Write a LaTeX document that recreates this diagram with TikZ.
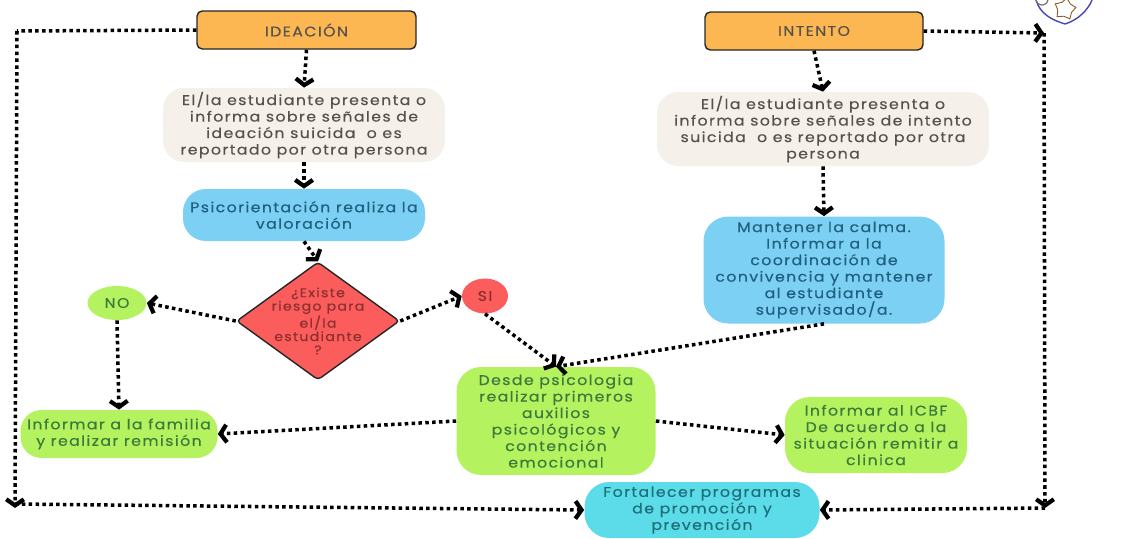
\documentclass[tikz,border=0pt]{standalone}
\usepackage{fontspec}
\setmainfont[LetterSpace=10,FakeStretch=1.12,FakeBold=0.35]{Poppins}
\usetikzlibrary{arrows.meta,shapes.geometric}
\definecolor{naranja}{HTML}{FCB652}
\definecolor{crema}{HTML}{F5F1EA}
\definecolor{azul}{HTML}{7BD0F4}
\definecolor{rojo}{HTML}{FB5C5C}
\definecolor{verde}{HTML}{B5F25F}
\definecolor{turquesa}{HTML}{5CDCE8}
\definecolor{tinta}{HTML}{55524E}
\definecolor{tintaazul}{HTML}{1F5F80}
\definecolor{tintaroja}{HTML}{8C2F2F}
\definecolor{tintaverde}{HTML}{3C7A3C}
\definecolor{tintaturq}{HTML}{1D6F7A}
\tikzset{
	caja/.style={rounded corners=9pt,align=center,inner sep=0pt,font=\fontsize{8}{9.4}\selectfont},
	titulo/.style={caja,fill=naranja,draw=black!85,line width=0.8pt,rounded corners=3pt,text=tinta},
	nota/.style={caja,fill=crema,text=tinta},
	proceso/.style={caja,fill=azul,text=tintaazul},
	accion/.style={caja,fill=verde,text=tintaverde},
	cierre/.style={caja,fill=turquesa,text=tintaturq},
	flecha/.style={line width=2pt,dash pattern=on 2pt off 1.9pt,-{Straight Barb[length=3.5pt,width=10pt,line width=2.4pt]}},
	linea/.style={line width=2pt,dash pattern=on 2pt off 1.9pt}
}
\begin{document}
\begin{tikzpicture}[x=0.02cm,y=-0.02cm]
	\useasboundingbox (0,0) rectangle (1125,538);
	% columna izquierda
	\node[titulo,minimum width=219*0.02cm,minimum height=38*0.02cm] (ideacion) at (306.5,30) {IDEACIÓN};
	\node[nota,minimum width=282*0.02cm,minimum height=74*0.02cm,rounded corners=12pt] (senales) at (304,125) {El/la estudiante presenta o\\informa sobre señales de\\ideación suicida\ \ o es\\reportado por otra persona};
	\node[proceso,minimum width=242*0.02cm,minimum height=52*0.02cm,rounded corners=13pt] (valoracion) at (304,215) {Psicorientación realiza la\\valoración};
	\node[diamond,fill=rojo,draw=black!85,line width=0.8pt,rounded corners=2pt,inner sep=0pt,minimum width=163*0.02cm,minimum height=118*0.02cm] (riesgo) at (318,321) {};
	\node[align=center,text=tintaroja,font=\fontsize{7.2}{7.6}\selectfont] (riesgotxt) at (318,321) {¿Existe\\riesgo para\\el/la\\estudiante\\?};
	\node[ellipse,fill=verde,text=tintaverde,inner sep=0pt,minimum width=59*0.02cm,minimum height=34*0.02cm,font=\fontsize{8}{9.4}\selectfont] (no) at (117,303) {NO};
	\node[ellipse,fill=rojo,text=tintaroja,inner sep=0pt,minimum width=46*0.02cm,minimum height=35*0.02cm,font=\fontsize{8}{9.4}\selectfont] (si) at (485,296) {SI};
	\node[accion,minimum width=197*0.02cm,minimum height=48*0.02cm,rounded corners=12pt] (familia) at (119,434) {Informar a la familia\\y realizar remisión};
	\node[accion,minimum width=199*0.02cm,minimum height=108*0.02cm,rounded corners=14pt] (desde) at (556,421) {Desde psicologia\\realizar primeros\\auxilios\\psicológicos y\\contención\\emocional};
	\node[accion,minimum width=182*0.02cm,minimum height=76*0.02cm,rounded corners=14pt] (icbf) at (876,435) {Informar al ICBF\\De acuerdo a la\\situación remitir a\\clinica};
	\node[cierre,minimum width=235*0.02cm,minimum height=56*0.02cm,rounded corners=14pt] (programas) at (702,510) {Fortalecer programas\\de promoción y\\prevención};
	% columna derecha
	\node[titulo,minimum width=218*0.02cm,minimum height=38*0.02cm] (intento) at (814,31) {INTENTO};
	\node[nota,minimum width=332*0.02cm,minimum height=74*0.02cm,rounded corners=12pt] (senales2) at (823,129) {El/la estudiante presenta o\\informa sobre señales de intento\\suicida\ \ o es reportado por otra\\persona};
	\node[proceso,minimum width=241*0.02cm,minimum height=107*0.02cm,rounded corners=14pt] (calma) at (824,270) {Mantener la calma.\\Informar a la\\coordinación de\\convivencia y mantener\\al estudiante\\supervisado/a.};
	% esquinas
	\coordinate (arribaizq) at (17,31);
	\coordinate (abajoizq) at (15,508);
	\coordinate (inicioizq) at (15,504);
	\coordinate (arribader) at (1044,33);
	\coordinate (abajoder) at (1045,508);
	% flechas
	\draw[linea] (ideacion.west) -- (arribaizq);
	\draw[flecha] (arribaizq) -- (abajoizq);
	\draw[flecha] (inicioizq) -- (programas.west);
	\draw[flecha] (intento.east) -- (arribader);
	\draw[flecha] (arribader) -- (abajoder);
	\draw[flecha] (abajoder) -- (programas.east);
	\draw[flecha] (ideacion.south) -- (senales.north);
	\draw[flecha] (senales.south) -- (valoracion.north);
	\draw[flecha] (valoracion.south) -- (riesgo.north);
	\draw[flecha] (riesgo.west) -- (no.east);
	\draw[flecha] (riesgo.east) -- (si.west);
	\draw[flecha] (si.south) -- (desde.north);
	\draw[flecha] (no.south) -- (familia.north);
	\draw[flecha] (desde.west) -- (familia.east);
	\draw[flecha] (desde.east) -- (icbf.west);
	\draw[flecha] (calma.south) -- (desde.north);
	\draw[flecha] (intento.south) -- (senales2.north);
	\draw[flecha] (senales2.south) -- (calma.north);
	% escudo
	\draw[blue!45!gray,line width=0.8pt] (1036,0) .. controls (1040,14) and (1052,20) .. (1065,24) .. controls (1078,20) and (1088,10) .. (1092,0);
	\draw[black!55,line width=0.7pt] (1042,-1) circle (6);
	\node[star,star points=5,draw=brown!70!black,line width=0.5pt,inner sep=0pt,minimum size=22*0.02cm,rotate=-10] (estrella) at (1065,9) {};
\end{tikzpicture}
\end{document}
